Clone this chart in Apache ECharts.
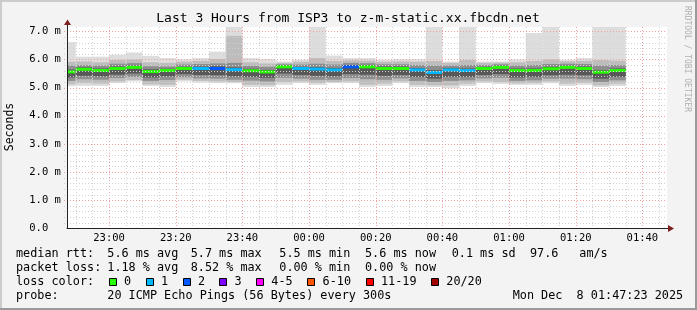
<!DOCTYPE html>
<html><head><meta charset="utf-8">
<script src="https://cdn.jsdelivr.net/npm/echarts@6/dist/echarts.min.js"></script>
<style>html,body{margin:0;padding:0;background:#f3f3f3}#c{width:697px;height:310px}</style>
</head><body><div id="c"></div>
<script>
// ---------- data ----------
const rangeStart = '22:47:23';
const rangeEnd = '01:47:23';
const barEndTimes = ['22:50','22:55','23:00','23:05','23:10','23:15','23:20','23:25','23:30','23:35','23:40','23:45','23:50','23:55','00:00','00:05','00:10','00:15','00:20','00:25','00:30','00:35','00:40','00:45','00:50','00:55','01:00','01:05','01:10','01:15','01:20','01:25','01:30','01:35'];
const medianMs = [5.56,5.65,5.61,5.68,5.72,5.57,5.61,5.68,5.68,5.68,5.64,5.60,5.56,5.74,5.68,5.66,5.63,5.74,5.74,5.68,5.68,5.63,5.54,5.63,5.61,5.68,5.72,5.61,5.61,5.67,5.72,5.68,5.55,5.61];
const maxMs    = [6.62,6.10,6.10,6.17,6.25,6.13,6.05,6.01,6.05,6.28,7.60,6.05,6.02,5.93,5.99,7.60,6.14,6.05,6.05,5.99,6.01,6.01,7.60,5.93,7.60,5.93,5.93,6.00,6.94,7.60,5.99,6.05,7.60,7.60];
const hi2Ms    = [5.92,5.93,5.90,5.98,6.00,5.90,5.88,5.92,5.95,6.02,6.84,5.90,5.86,5.88,5.92,6.05,5.95,5.97,5.96,5.92,5.93,5.92,5.95,5.88,5.98,5.88,5.89,5.90,5.95,6.00,5.94,5.95,5.98,5.96];
const hi3Ms    = [5.78,5.80,5.78,5.85,5.87,5.76,5.75,5.82,5.84,5.86,5.88,5.77,5.74,5.83,5.82,5.85,5.82,5.88,5.87,5.83,5.83,5.80,5.78,5.78,5.80,5.80,5.83,5.78,5.80,5.84,5.85,5.84,5.78,5.80];
const hi4Ms    = [5.64,5.72,5.68,5.75,5.78,5.65,5.67,5.74,5.75,5.76,5.72,5.67,5.63,5.79,5.74,5.73,5.70,5.80,5.80,5.75,5.75,5.70,5.62,5.70,5.68,5.74,5.78,5.68,5.68,5.74,5.78,5.75,5.62,5.68];
const lo4Ms    = [5.36,5.42,5.40,5.46,5.50,5.36,5.40,5.48,5.45,5.44,5.40,5.38,5.35,5.50,5.45,5.42,5.40,5.48,5.46,5.42,5.45,5.38,5.32,5.38,5.38,5.45,5.48,5.36,5.38,5.44,5.46,5.44,5.32,5.38];
const lo3Ms    = [5.24,5.30,5.28,5.34,5.38,5.24,5.27,5.37,5.33,5.32,5.28,5.25,5.22,5.35,5.32,5.28,5.28,5.34,5.30,5.28,5.33,5.24,5.20,5.24,5.26,5.33,5.35,5.24,5.26,5.32,5.32,5.30,5.20,5.26];
const lo2Ms    = [5.12,5.16,5.14,5.22,5.27,5.12,5.10,5.28,5.24,5.22,5.20,5.10,5.09,5.20,5.22,5.16,5.20,5.22,5.10,5.14,5.22,5.10,5.08,5.08,5.14,5.22,5.20,5.15,5.16,5.22,5.14,5.17,5.08,5.14];
const minMs    = [5.05,5.06,5.06,5.16,5.22,5.06,5.02,5.22,5.18,5.16,5.16,5.02,5.02,5.10,5.16,5.10,5.16,5.16,5.02,5.06,5.16,5.02,5.02,4.98,5.06,5.16,5.13,5.10,5.10,5.16,5.06,5.10,5.02,5.06];
const lostPings = [0,0,0,0,0,0,0,0,1,2,1,0,0,0,1,1,1,2,0,0,0,1,1,1,1,0,0,0,0,0,0,0,0,0];
const xTickLabels = ['23:00','23:20','23:40','00:00','00:20','00:40','01:00','01:20','01:40'];
const yTickValues = [0,1,2,3,4,5,6,7];
const lossLabels = ['0','1','2','3','4-5','6-10','11-19','20/20'];
const lossColors = ['#26ff00','#00b8ff','#0059ff','#7e00ff','#ff00ff','#ff5500','#ff0000','#a10000'];
const lossUpper  = [0,1,2,3,5,10,19,20];
const statLines = [
  ['median rtt:', ['5.6 ms avg','5.7 ms max','5.5 ms min','5.6 ms now','0.1 ms sd','97.6','am/s']],
  ['packet loss:', ['1.18 % avg','8.52 % max','0.00 % min','0.00 % now']]
];
const titleText = 'Last 3 Hours from ISP3 to z-m-static.xx.fbcdn.net';
const probeText = '20 ICMP Echo Pings (56 Bytes) every 300s';
const dateText = 'Mon Dec  8 01:47:23 2025';

// ---------- helpers ----------
function toRel(s){ // minutes relative to 23:00
  const p = s.split(':').map(Number);
  let t = p[0]*60 + p[1] + (p[2]||0)/60;
  if (p[0] < 12) t += 1440;
  return t - 1380;
}
function fmtRel(v){
  let t = Math.round(v + 1380) % 1440;
  const h = Math.floor(t/60), m = t%60;
  return String(h).padStart(2,'0')+':'+String(m).padStart(2,'0');
}
function lossColor(n){
  for (let i=0;i<lossUpper.length;i++) if (n <= lossUpper[i]) return lossColors[i];
  return lossColors[lossColors.length-1];
}
const xMin = toRel(rangeStart), xMax = toRel(rangeEnd);
const yMax = 7.155;
const MONO = '"DejaVu Sans Mono", "Liberation Mono", monospace';

const smokeData = barEndTimes.map((t,i)=>{
  const e = toRel(t);
  return [e-5, e, minMs[i], lo2Ms[i], lo3Ms[i], lo4Ms[i], hi4Ms[i], hi3Ms[i], hi2Ms[i], maxMs[i], medianMs[i], lostPings[i]];
});

// grid lines (drawn above the smoke, like rrdtool)
const gridData = [];
for (let v=-10; v<=165; v+=5) gridData.push([0, v, (v%20===0)?1:0]);
for (let k=1; k<=35; k++) { const v = k*0.2; gridData.push([1, +v.toFixed(1), (k%5===0)?1:0]); }

function clip(r, cs){
  return echarts.graphic.clipRectByRect(r, {x:cs.x, y:cs.y, width:cs.width, height:cs.height});
}
function renderSmoke(params, api){
  const cs = params.coordSys;
  const s = api.value(0), e = api.value(1);
  const layers = [[2,9,'#dddddd'],[3,8,'#bdbdbd'],[4,7,'#8e8e8e'],[5,6,'#585858']];
  const children = [];
  for (const [a,b,col] of layers){
    const p0 = api.coord([s, api.value(b)]);
    const p1 = api.coord([e, api.value(a)]);
    const r = clip({x:p0[0], y:p0[1], width:p1[0]-p0[0], height:p1[1]-p0[1]}, cs);
    if (r) children.push({type:'rect', shape:r, style:{fill:col}});
  }
  const pm0 = api.coord([s, api.value(10)]);
  const pm1 = api.coord([e, api.value(10)]);
  const rm = clip({x:pm0[0], y:pm0[1]-1.5, width:pm1[0]-pm0[0], height:3}, cs);
  if (rm) children.push({type:'rect', shape:rm, style:{fill:lossColor(api.value(11))}});
  return {type:'group', children};
}
function renderGrid(params, api){
  const cs = params.coordSys;
  const kind = api.value(0), v = api.value(1), major = api.value(2);
  const color = major ? '#f0a0a0' : '#d2d2d2';
  let shape;
  if (kind === 0) {
    const x = Math.round(api.coord([v, 0])[0]) + 0.5;
    shape = {x1:x, y1:cs.y, x2:x, y2:cs.y+cs.height};
  } else {
    const y = Math.round(api.coord([0, v])[1]) + 0.5;
    shape = {x1:cs.x-3, y1:y, x2:cs.x+cs.width, y2:y};
  }
  return {type:'line', shape, style:{stroke:color, lineWidth:1, lineDash:[1,2]}};
}

const chart = echarts.init(document.getElementById('c'), null, {renderer:'canvas', width:697, height:310});

const graphics = [];
// frame
graphics.push({type:'rect', shape:{x:0,y:0,width:697,height:2}, style:{fill:'#cccccc'}, silent:true});
graphics.push({type:'rect', shape:{x:0,y:0,width:2,height:310}, style:{fill:'#cccccc'}, silent:true});
graphics.push({type:'rect', shape:{x:0,y:308,width:697,height:2}, style:{fill:'#9a9a9a'}, silent:true});
graphics.push({type:'rect', shape:{x:695,y:0,width:2,height:310}, style:{fill:'#9a9a9a'}, silent:true});
// title
graphics.push({type:'text', x:348, y:19, style:{text:titleText, font:'13px '+MONO, fill:'#000', align:'center', verticalAlign:'middle', textAlign:'center', textVerticalAlign:'middle'}});
// y axis name
graphics.push({type:'text', x:10.5, y:127, rotation:Math.PI/2, style:{text:'Seconds', font:'11.5px '+MONO, fill:'#000', align:'center', verticalAlign:'middle', textAlign:'center', textVerticalAlign:'middle'}});
// watermark
graphics.push({type:'text', x:687, y:59, rotation:-Math.PI/2, style:{text:'RRDTOOL / TOBI OETIKER', font:'8px '+MONO, fill:'#b0b0b0', align:'center', verticalAlign:'middle', textAlign:'center', textVerticalAlign:'middle'}});
// axis extensions + arrows
graphics.push({type:'line', shape:{x1:67.5,y1:28,x2:67.5,y2:24}, style:{stroke:'#222', lineWidth:1}, z:100});
graphics.push({type:'polygon', shape:{points:[[64,25],[71,25],[67.5,19.5]]}, style:{fill:'#7f1f1f'}, z:100});
graphics.push({type:'line', shape:{x1:666,y1:228.5,x2:670,y2:228.5}, style:{stroke:'#222', lineWidth:1}, z:100});
graphics.push({type:'polygon', shape:{points:[[668,225],[668,232],[674,228.5]]}, style:{fill:'#7f1f1f'}, z:100});
// legend/stat lines
const lineY = [254.3, 268.3, 282.3, 296];
const colX = [107.3, 190.7, 279.3, 365, 451.7, 530, 579.3];
const legFont = '11.8px ' + MONO;
function txt(x, y, s){ graphics.push({type:'text', x, y, style:{text:s, font:legFont, fill:'#000', align:'left', verticalAlign:'middle', textAlign:'left', textVerticalAlign:'middle'}}); }
statLines.forEach((ln, r)=>{
  txt(16, lineY[r], ln[0]);
  ln[1].forEach((s, j)=> txt(colX[j], lineY[r], s));
});
txt(16, lineY[2], 'loss color:');
const boxX = [108.7, 145.7, 182.7, 219.3, 256, 307.3, 365.7, 431];
lossLabels.forEach((l, i)=>{
  graphics.push({type:'rect', shape:{x:Math.round(boxX[i])+0.5, y:278.5, width:7, height:7}, style:{fill:lossColors[i], stroke:'#000', lineWidth:1}});
  txt(boxX[i]+15.3, lineY[2], l);
});
txt(16, lineY[3], 'probe:');
txt(107.3, lineY[3], probeText);
txt(512.7, lineY[3], dateText);

chart.setOption({
  animation:false,
  backgroundColor:'#f3f3f3',
  grid:{left:67, top:27, width:600, height:201.3, show:true, backgroundColor:'#ffffff', borderWidth:0},
  xAxis:{
    type:'value', min:xMin, max:xMax, z:10,
    axisLine:{show:true, onZero:false, lineStyle:{color:'#222', width:1}},
    axisTick:{show:false},
    splitLine:{show:false},
    axisLabel:{
      customValues: xTickLabels.map(toRel),
      formatter: v => fmtRel(v),
      fontFamily: MONO, fontSize:10.5, color:'#000', margin:4
    }
  },
  yAxis:{
    type:'value', min:0, max:yMax, interval:1, z:10,
    axisLine:{show:true, onZero:false, lineStyle:{color:'#222', width:1}},
    axisTick:{show:false},
    splitLine:{show:false},
    axisLabel:{
      customValues: yTickValues,
      formatter: v => v === 0 ? '0.0' : v.toFixed(1)+' m',
      fontFamily: MONO, fontSize:10.5, color:'#000', align:'left', margin:37.7
    }
  },
  series:[
    {type:'custom', name:'smoke', renderItem:renderSmoke, data:smokeData, z:2, silent:true,
     encode:{x:[0,1], y:[2,9]}},
    {type:'custom', name:'grid', renderItem:renderGrid, data:gridData, z:3, silent:true,
     encode:{x:1, y:1}}
  ],
  graphic: graphics
});
</script>
</body></html>
